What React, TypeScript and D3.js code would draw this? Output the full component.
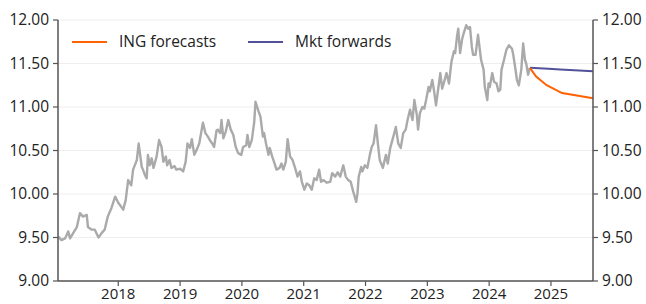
import React from 'react';
import * as d3 from 'd3';

// weekly-ish spot series: [year fraction, value]
const spotYears = [
  2017.03, 2017.08, 2017.14, 2017.19, 2017.22, 2017.27, 2017.33, 2017.38, 2017.43, 2017.49,
  2017.51, 2017.57, 2017.62, 2017.68, 2017.73, 2017.78, 2017.83, 2017.89, 2017.95, 2018.00,
  2018.06, 2018.08, 2018.12, 2018.16, 2018.21, 2018.24, 2018.30, 2018.33, 2018.38, 2018.40,
  2018.43, 2018.46, 2018.48, 2018.51, 2018.54, 2018.57, 2018.62, 2018.66, 2018.70, 2018.73,
  2018.77, 2018.79, 2018.83, 2018.86, 2018.91, 2018.94, 2019.00, 2019.05, 2019.09, 2019.12,
  2019.16, 2019.19, 2019.23, 2019.27, 2019.31, 2019.37, 2019.41, 2019.45, 2019.48, 2019.52,
  2019.55, 2019.59, 2019.61, 2019.65, 2019.67, 2019.70, 2019.74, 2019.78, 2019.82, 2019.86,
  2019.90, 2019.94, 2019.99, 2020.02, 2020.07, 2020.09, 2020.12, 2020.16, 2020.20, 2020.22,
  2020.27, 2020.30, 2020.34, 2020.36, 2020.39, 2020.43, 2020.45, 2020.49, 2020.52, 2020.56,
  2020.61, 2020.64, 2020.67, 2020.71, 2020.74, 2020.78, 2020.82, 2020.86, 2020.90, 2020.94,
  2020.97, 2021.01, 2021.05, 2021.09, 2021.13, 2021.17, 2021.21, 2021.25, 2021.28, 2021.32,
  2021.37, 2021.43, 2021.46, 2021.51, 2021.55, 2021.59, 2021.64, 2021.68, 2021.72, 2021.76,
  2021.80, 2021.85, 2021.87, 2021.89, 2021.93, 2021.95, 2021.99, 2022.03, 2022.07, 2022.10,
  2022.13, 2022.17, 2022.20, 2022.23, 2022.28, 2022.33, 2022.36, 2022.40, 2022.45, 2022.49,
  2022.53, 2022.57, 2022.61, 2022.65, 2022.68, 2022.72, 2022.76, 2022.79, 2022.83, 2022.85,
  2022.88, 2022.92, 2022.95, 2022.98, 2023.02, 2023.04, 2023.08, 2023.11, 2023.14, 2023.18,
  2023.21, 2023.24, 2023.28, 2023.31, 2023.35, 2023.39, 2023.43, 2023.45, 2023.48, 2023.50,
  2023.53, 2023.56, 2023.58, 2023.63, 2023.66, 2023.69, 2023.72, 2023.74, 2023.78, 2023.82,
  2023.84, 2023.87, 2023.91, 2023.93, 2023.97, 2023.99, 2024.01, 2024.05, 2024.08, 2024.12,
  2024.15, 2024.18, 2024.20, 2024.24, 2024.28, 2024.32, 2024.37, 2024.39, 2024.42, 2024.45,
  2024.48, 2024.52, 2024.55, 2024.58, 2024.60, 2024.63, 2024.66,
];
const spotValues = [
  9.51, 9.47, 9.49, 9.57, 9.49, 9.55, 9.62, 9.78, 9.74, 9.76,
  9.62, 9.59, 9.59, 9.50, 9.55, 9.59, 9.74, 9.84, 9.97, 9.90,
  9.84, 9.82, 9.93, 10.16, 10.10, 10.28, 10.39, 10.58, 10.31, 10.28,
  10.22, 10.18, 10.45, 10.33, 10.41, 10.30, 10.43, 10.62, 10.54, 10.37,
  10.43, 10.33, 10.39, 10.30, 10.32, 10.28, 10.29, 10.26, 10.37, 10.58,
  10.53, 10.63, 10.45, 10.51, 10.58, 10.82, 10.70, 10.66, 10.62, 10.58,
  10.54, 10.73, 10.74, 10.70, 10.85, 10.64, 10.72, 10.85, 10.74, 10.68,
  10.54, 10.47, 10.45, 10.54, 10.56, 10.68, 10.54, 10.62, 10.83, 11.06,
  10.95, 10.89, 10.66, 10.70, 10.58, 10.45, 10.53, 10.43, 10.37, 10.28,
  10.30, 10.35, 10.28, 10.37, 10.63, 10.43, 10.39, 10.30, 10.20, 10.26,
  10.14, 10.05, 10.12, 10.10, 10.05, 10.18, 10.16, 10.28, 10.14, 10.16,
  10.13, 10.14, 10.24, 10.20, 10.25, 10.20, 10.33, 10.20, 10.16, 10.14,
  10.03, 9.91, 10.01, 10.20, 10.31, 10.26, 10.33, 10.30, 10.45, 10.54,
  10.58, 10.79, 10.58, 10.39, 10.30, 10.45, 10.35, 10.53, 10.66, 10.77,
  10.58, 10.53, 10.70, 10.74, 10.85, 10.97, 10.85, 11.08, 10.91, 10.74,
  10.93, 11.00, 10.98, 11.08, 11.23, 11.18, 11.31, 11.18, 11.02, 11.23,
  11.39, 11.21, 11.31, 11.39, 11.27, 11.52, 11.64, 11.62, 11.81, 11.90,
  11.62, 11.77, 11.83, 11.94, 11.90, 11.92, 11.69, 11.60, 11.60, 11.83,
  11.71, 11.54, 11.43, 11.23, 11.08, 11.27, 11.23, 11.39, 11.29, 11.27,
  11.18, 11.20, 11.43, 11.54, 11.66, 11.71, 11.67, 11.60, 11.46, 11.31,
  11.25, 11.43, 11.73, 11.54, 11.50, 11.37, 11.45,
];

const forecastYears = [2024.66, 2024.76, 2024.93, 2025.18, 2025.68];
const forecastValues = [11.45, 11.35, 11.25, 11.16, 11.10];

const forwardYears = [2024.66, 2024.96, 2025.15, 2025.68];
const forwardValues = [11.45, 11.44, 11.43, 11.41];

const yTicks = [9.0, 9.5, 10.0, 10.5, 11.0, 11.5, 12.0];
const xTicks = [2018, 2019, 2020, 2021, 2022, 2023, 2024, 2025];

const legend = [
  { label: 'ING forecasts', color: '#ff6200' },
  { label: 'Mkt forwards', color: '#525199' },
];

const W = 646;
const H = 304;
const margin = { top: 20, right: 53, bottom: 23, left: 58 };
const font = '"Open Sans", sans-serif';
const axisColor = '#555';

const App = () => {
  const innerW = W - margin.left - margin.right;
  const innerH = H - margin.top - margin.bottom;

  const x = d3.scaleLinear().domain([2017.025, 2025.68]).range([margin.left, margin.left + innerW]);
  const y = d3.scaleLinear().domain([9, 12]).range([margin.top + innerH, margin.top]);

  const line = d3.line<[number, number]>()
    .x(d => x(d[0]))
    .y(d => y(d[1]));

  const spot = line(spotYears.map((t, i) => [t, spotValues[i]]));
  const forecast = line(forecastYears.map((t, i) => [t, forecastValues[i]]));
  const forward = line(forwardYears.map((t, i) => [t, forwardValues[i]]));

  const x0 = margin.left;
  const x1 = margin.left + innerW;
  const y0 = margin.top + innerH;

  return (
    <svg width={W} height={H} style={{ position: 'absolute', left: 0, top: 0, display: 'block' }}
      fontFamily={font}>
      <rect width={W} height={H} fill='#fff' />
      {yTicks.map(v => (
        <line key={`g${v}`} x1={x0} x2={x1} y1={y(v)} y2={y(v)} stroke='#eeeeee' strokeWidth='1' />
      ))}

      <path d={spot} fill='none' stroke='#aaaaaa' strokeWidth='2.4' strokeLinejoin='round' />
      <path d={forward} fill='none' stroke={legend[1].color} strokeWidth='2' />
      <path d={forecast} fill='none' stroke={legend[0].color} strokeWidth='2' />

      {/* axes */}
      <line x1={x0} x2={x0} y1={margin.top} y2={y0} stroke={axisColor} strokeWidth='1.5' />
      <line x1={x1} x2={x1} y1={margin.top} y2={y0} stroke={axisColor} strokeWidth='1.5' />
      <line x1={x0} x2={x1} y1={y0} y2={y0} stroke={axisColor} strokeWidth='1.5' />
      {yTicks.map(v => (
        <g key={`t${v}`}>
          <line x1={x0 - 5} x2={x0} y1={y(v)} y2={y(v)} stroke={axisColor} strokeWidth='1.2' />
          <line x1={x1} x2={x1 + 5} y1={y(v)} y2={y(v)} stroke={axisColor} strokeWidth='1.2' />
          <text x={x0 - 9} y={y(v)} dy='0.35em' textAnchor='end' fontSize='15.5' fill='#222'>{v.toFixed(2)}</text>
          <text x={x1 + 9} y={y(v)} dy='0.35em' textAnchor='start' fontSize='15.5' fill='#222'>{v.toFixed(2)}</text>
        </g>
      ))}
      {xTicks.map(t => (
        <g key={`x${t}`}>
          <line x1={x(t)} x2={x(t)} y1={y0} y2={y0 + 5} stroke={axisColor} strokeWidth='1.2' />
          <text x={x(t)} y={y0 + 18} textAnchor='middle' fontSize='15' fill='#222'>{t}</text>
        </g>
      ))}

      {/* legend */}
      {legend.map((l, i) => {
        const lx = 72 + i * 176;
        return (
          <g key={l.label}>
            <line x1={lx} x2={lx + 35} y1={42} y2={42} stroke={l.color} strokeWidth='2' />
            <text x={lx + 47} y={42} dy='0.35em' fontSize='15.5' fill='#222'>{l.label}</text>
          </g>
        );
      })}
    </svg>
  );
};

export default App;
